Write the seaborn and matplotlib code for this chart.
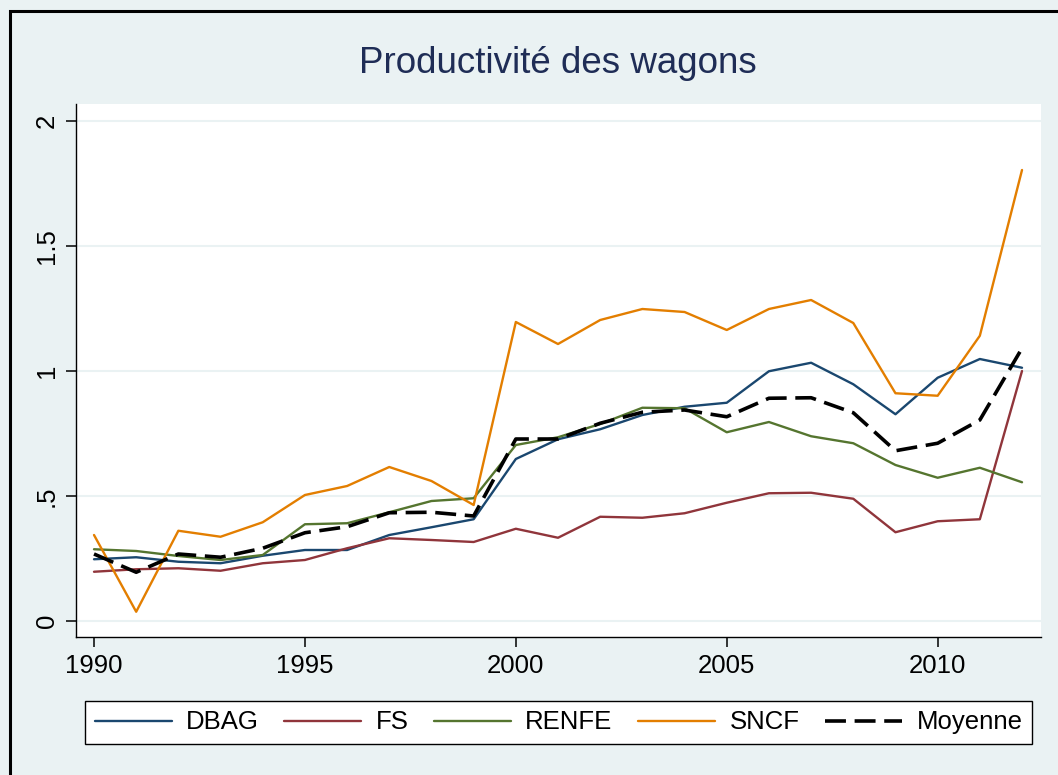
import numpy as np
import pandas as pd
import matplotlib
matplotlib.use("Agg")
import matplotlib.pyplot as plt
import seaborn as sns
from matplotlib.patches import Rectangle

# Données
annees = list(range(1990, 2013))
dbag = [0.247, 0.255, 0.237, 0.231, 0.261, 0.284, 0.284, 0.344, 0.375, 0.407,
        0.648, 0.727, 0.767, 0.824, 0.857, 0.873, 0.999, 1.033, 0.947, 0.827,
        0.973, 1.048, 1.013]
fs = [0.197, 0.207, 0.211, 0.201, 0.231, 0.244, 0.291, 0.331, 0.324, 0.316,
      0.369, 0.333, 0.417, 0.413, 0.431, 0.473, 0.511, 0.513, 0.489, 0.355,
      0.399, 0.407, 1.000]
renfe = [0.287, 0.280, 0.260, 0.244, 0.264, 0.387, 0.391, 0.435, 0.480, 0.491,
         0.704, 0.735, 0.788, 0.853, 0.851, 0.755, 0.796, 0.739, 0.711, 0.624,
         0.573, 0.613, 0.555]
sncf = [0.344, 0.037, 0.361, 0.337, 0.395, 0.504, 0.540, 0.616, 0.560, 0.464,
        1.196, 1.108, 1.204, 1.248, 1.236, 1.164, 1.248, 1.284, 1.192, 0.911,
        0.901, 1.141, 1.804]
moyenne = [0.268, 0.195, 0.268, 0.255, 0.291, 0.353, 0.377, 0.433, 0.435, 0.420,
           0.728, 0.728, 0.791, 0.835, 0.844, 0.817, 0.891, 0.893, 0.833, 0.681,
           0.711, 0.804, 1.091]
reseaux = ["DBAG", "FS", "RENFE", "SNCF"]
couleurs = ["#1A476F", "#90353B", "#55752F", "#E37E00"]
y_ticks = [0, 0.5, 1, 1.5, 2]
y_labels = ["0", ".5", "1", "1.5", "2"]
x_ticks = [1990, 1995, 2000, 2005, 2010]

df = pd.DataFrame({"annee": annees, "DBAG": dbag, "FS": fs, "RENFE": renfe, "SNCF": sncf})
long_df = df.melt(id_vars="annee", var_name="reseau", value_name="valeur")

sns.set_theme(style="white")
plt.rcParams["font.family"] = ["Liberation Sans", "DejaVu Sans"]
plt.rcParams["text.color"] = "black"
plt.rcParams["xtick.color"] = "black"
plt.rcParams["ytick.color"] = "black"

fond = "#EAF2F3"
W, H = 1058, 775
fig = plt.figure(figsize=(W / 100, H / 100), dpi=100, facecolor=fond)
ax = fig.add_axes([76 / W, 1 - 637 / H, (1041 - 76) / W, (637 - 104) / H])
ax.set_facecolor("white")

sns.lineplot(data=long_df, x="annee", y="valeur", hue="reseau", hue_order=reseaux,
             palette=couleurs, linewidth=1.7, ax=ax, legend=False)
sns.lineplot(x=annees, y=moyenne, color="black", linewidth=2.6, ax=ax, legend=False)
ax.lines[-1].set_dashes([5.8, 2.4])

ax.set_xlim(1989.573, 2012.45)
ax.set_ylim(-0.064, 2.068)
ax.set_xticks(x_ticks)
ax.set_xticklabels([str(t) for t in x_ticks])
ax.set_yticks(y_ticks)
ax.set_yticklabels(y_labels, rotation=90, va="center")
ax.set_xlabel("")
ax.set_ylabel("")
ax.tick_params(axis="both", which="major", length=7.2, width=1.1, color="black",
               labelcolor="black", labelsize=18.5, pad=5, left=True, bottom=True)
ax.yaxis.grid(True, color=fond, linewidth=1.5)
ax.xaxis.grid(False)
ax.set_axisbelow(True)
for s in ["top", "right"]:
    ax.spines[s].set_visible(False)
for s in ["left", "bottom"]:
    ax.spines[s].set_color("black")
    ax.spines[s].set_linewidth(1.0)

fig.text(558 / W, 1 - 73 / H, "Productivité des wagons", ha="center", va="baseline",
         fontsize=26.5, color="#1F2D56")

handles = [plt.Line2D([], [], color=c, linewidth=1.7) for c in couleurs]
h_moy = plt.Line2D([], [], color="black", linewidth=2.6)
h_moy.set_dashes([5.8, 2.4])
handles.append(h_moy)
leg = ax.legend(handles, reseaux + ["Moyenne"], ncol=5, mode="expand",
                loc="lower left", bbox_to_anchor=(85 / W, 1 - 744 / H, 947 / W, 50 / H),
                bbox_transform=fig.transFigure, borderaxespad=0, fontsize=18.5,
                handlelength=3.0, handletextpad=0.55, columnspacing=0.7,
                borderpad=0.37, frameon=True, fancybox=False, shadow=False)
leg.get_frame().set_edgecolor("black")
leg.get_frame().set_linewidth(1.0)
leg.get_frame().set_facecolor("white")
leg.get_frame().set_alpha(1)
for t in leg.get_texts():
    t.set_color("black")

# cadre extérieur (haut et gauche visibles)
fig.patches.append(Rectangle((10 / W, -0.1), 1.2, 1 - 11 / H + 0.1, transform=fig.transFigure,
                             fill=False, edgecolor="black", linewidth=2.2, zorder=10))

fig.savefig("out.png", dpi=100, facecolor=fond)
